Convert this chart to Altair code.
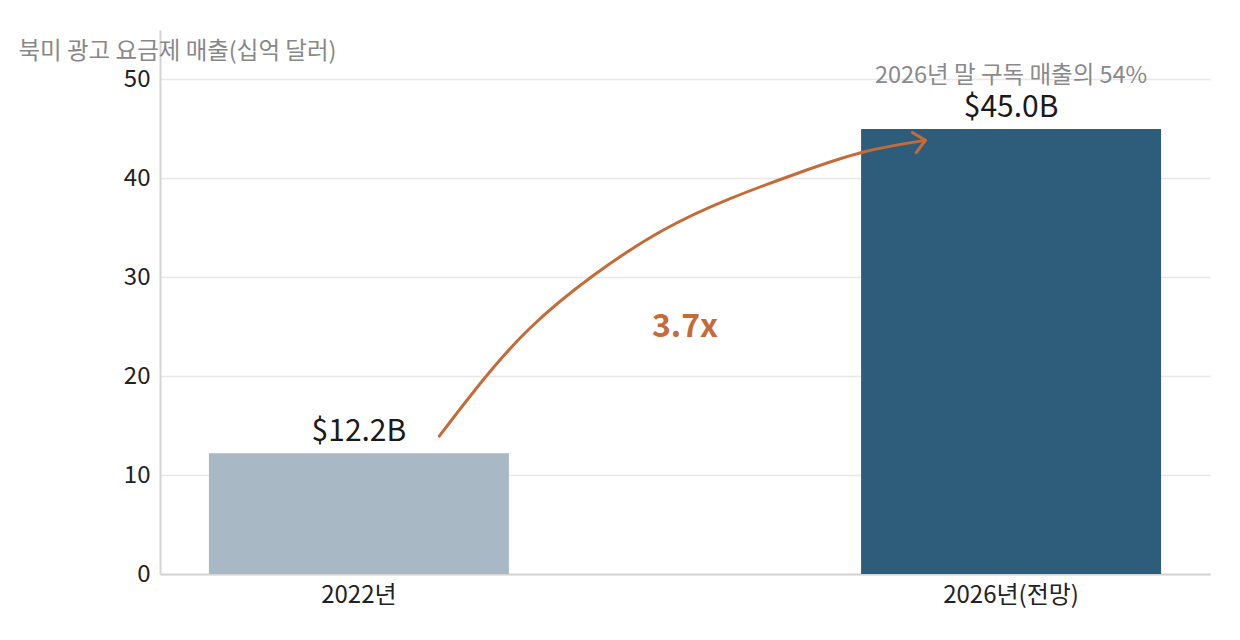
import altair as alt
import pandas as pd

# ---- data ----
categories = ["2022년", "2026년(전망)"]
values = [12.2, 45.0]
value_labels = ["$12.2B", "$45.0B"]
bar_colors = ["#a8b8c5", "#2e5d7b"]

note_category = ["2026년(전망)"]
note_value = [50.3]
note_text = ["2026년 말 구독 매출의 54%"]

# arrow path (x as fraction of plot width, y in $B)
arrow_u = [0.266, 0.305, 0.352, 0.413, 0.479, 0.543, 0.606, 0.670, 0.729]
arrow_v = [13.94, 19.26, 24.82, 30.20, 34.75, 37.95, 40.47, 42.66, 43.84]
head_u = [0.729]
head_v = [43.84]
mult_u = [0.5]
mult_v = [25.0]
mult_text = ["3.7x"]

y_title = "북미 광고 요금제 매출(십억 달러)"
FONT = "Noto Sans CJK KR"
ORANGE = "#c46b3a"

bars_df = pd.DataFrame({"cat": categories, "val": values, "lab": value_labels})
note_df = pd.DataFrame({"cat": note_category, "val": note_value, "txt": note_text})
arrow_df = pd.DataFrame({"u": arrow_u, "v": arrow_v, "o": list(range(len(arrow_u)))})
head_df = pd.DataFrame({"u": head_u, "v": head_v})
mult_df = pd.DataFrame({"u": mult_u, "v": mult_v, "txt": mult_text})

yscale = alt.Scale(domain=[0, 55], nice=False)
xband = alt.X(
    "cat:N",
    sort=categories,
    title=None,
    scale=alt.Scale(paddingInner=0.54, paddingOuter=0.075),
    axis=alt.Axis(labelAngle=0, labelFontSize=24, labelColor="#222222",
                  labelPadding=9, ticks=False, tickSize=0,
                  domainColor="#d4d4d4", domainWidth=2, grid=False),
)

bars = alt.Chart(bars_df).mark_bar().encode(
    x=xband,
    y=alt.Y(
        "val:Q",
        scale=yscale,
        axis=alt.Axis(
            values=[0, 10, 20, 30, 40, 50],
            title=y_title,
            titleAngle=0,
            titleAlign="left",
            titleBaseline="middle",
            titleX=-142,
            titleY=21,
            titleFontSize=23.5,
            titleFontWeight="normal",
            titleColor="#888888",
            labelFontSize=24,
            labelColor="#222222",
            labelPadding=10,
            ticks=False,
            tickSize=0,
            domainColor="#d4d4d4",
            domainWidth=2,
            gridColor="#e8e8e8",
            gridWidth=1.5,
        ),
    ),
    color=alt.Color("cat:N", scale=alt.Scale(domain=categories, range=bar_colors), legend=None),
)

bar_text = alt.Chart(bars_df).mark_text(
    baseline="bottom", dy=-6, fontSize=30, color="#1a1a1a", font=FONT
).encode(
    x=alt.X("cat:N", sort=categories),
    y=alt.Y("val:Q", scale=yscale),
    text="lab:N",
)

note = alt.Chart(note_df).mark_text(
    baseline="middle", fontSize=23.5, color="#8a8a8a", font=FONT
).encode(
    x=alt.X("cat:N", sort=categories),
    y=alt.Y("val:Q", scale=yscale),
    text="txt:N",
)

band_layer = alt.layer(bars, bar_text, note)

uscale = alt.Scale(domain=[0, 1], nice=False, zero=False)

arrow = alt.Chart(arrow_df).mark_line(
    color=ORANGE, strokeWidth=3, interpolate="natural", strokeCap="round"
).encode(
    x=alt.X("u:Q", scale=uscale, axis=None),
    y=alt.Y("v:Q", scale=yscale),
    order="o:Q",
)

head = alt.Chart(head_df).mark_point(
    shape="M -1 -0.9 L 0 0 L -1 0.9",
    filled=False,
    stroke=ORANGE,
    strokeWidth=3,
    size=520,
    angle=349,
    opacity=1,
    strokeCap="round",
    strokeJoin="round",
).encode(
    x=alt.X("u:Q", scale=uscale, axis=None),
    y=alt.Y("v:Q", scale=yscale),
)

mult = alt.Chart(mult_df).mark_text(
    fontSize=32, fontWeight="bold", color=ORANGE, font=FONT, baseline="middle"
).encode(
    x=alt.X("u:Q", scale=uscale, axis=None),
    y=alt.Y("v:Q", scale=yscale),
    text="txt:N",
)

anno_layer = alt.layer(arrow, head, mult)

chart = (
    alt.layer(band_layer, anno_layer)
    .resolve_scale(x="independent")
    .properties(
        width=1050,
        height=544,
        padding={"left": 10, "top": 22, "right": 20, "bottom": 10},
    )
    .configure(font=FONT)
    .configure_view(stroke=None)
    .configure_axis(labelFont=FONT, titleFont=FONT)
)

chart.save("out.html", embed_options={"renderer": "svg", "actions": False})
